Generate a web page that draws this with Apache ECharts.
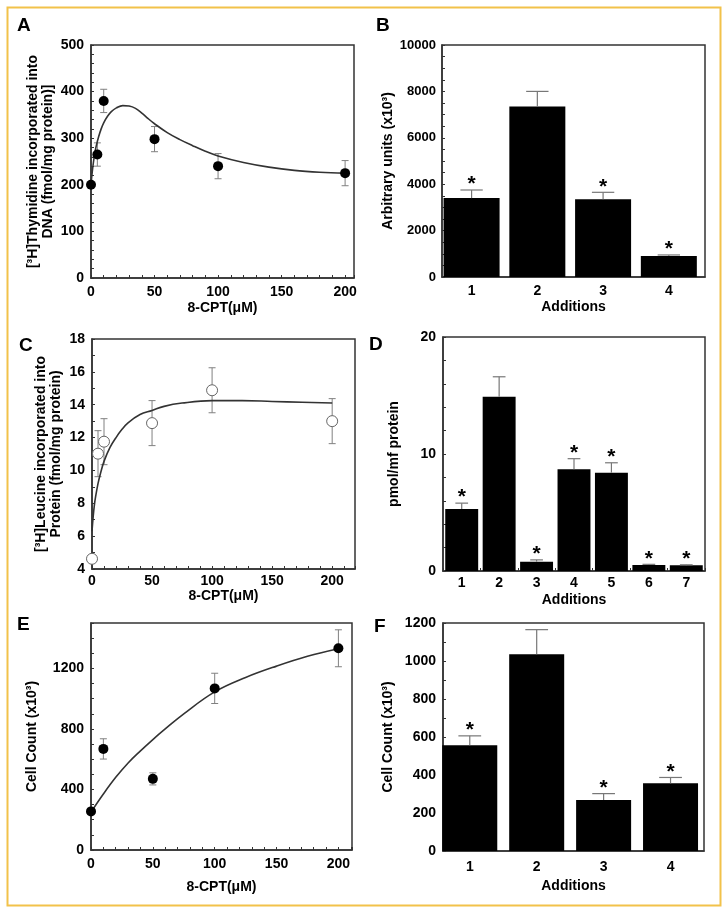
<!DOCTYPE html>
<html><head><meta charset="utf-8">
<script src="https://cdn.jsdelivr.net/npm/echarts@6/dist/echarts.min.js"></script>
<style>html,body{margin:0;padding:0;background:#fff}#c{width:724px;height:910px}</style>
</head><body><div id="c"></div>
<script>
// ---------- Panel A ----------
const aX = [0, 5, 10, 50, 100, 200];
const aY = [200, 265, 380, 298, 240, 225];
const aErr = [0, 25, 25, 27, 27, 27];
const aCurveX = [0, 1, 2, 3, 4, 6, 8, 10, 13, 16, 20, 25, 30, 35, 40, 45, 50, 60, 70, 80, 90, 100, 120, 140, 160, 180, 200];
const aCurveY = [200, 228, 250, 268, 282, 303, 320, 333, 347, 357, 365, 370, 369, 364, 354, 342, 331, 312, 297, 284, 272, 262, 248, 238, 231, 227, 225];
// ---------- Panel B ----------
const bCats = [1, 2, 3, 4];
const bVals = [3400, 7350, 3350, 900];
const bErr = [350, 650, 300, 50];
const bSig = [1, 0, 1, 1];
// ---------- Panel C ----------
const cX = [0, 5, 10, 50, 100, 200];
const cY = [4.62, 11.02, 11.75, 12.88, 14.88, 13.0];
const cErr = [0, 1.4, 1.4, 1.37, 1.37, 1.37];
const cCurveX = [0, 1, 2, 3, 5, 7, 10, 15, 20, 25, 30, 40, 50, 60, 75, 100, 125, 150, 175, 200];
const cCurveY = [6.3, 7.2, 7.9, 8.4, 9.2, 9.8, 10.55, 11.4, 12.0, 12.5, 12.9, 13.4, 13.65, 13.9, 14.1, 14.25, 14.25, 14.2, 14.15, 14.1];
// ---------- Panel D ----------
const dCats = ['1', '2', '3', '4', '5', '6', '7'];
const dVals = [5.3, 14.9, 0.8, 8.7, 8.4, 0.52, 0.5];
const dErr = [0.5, 1.7, 0.15, 0.9, 0.85, 0.05, 0.03];
const dSig = [1, 0, 1, 1, 1, 1, 1];
// ---------- Panel E ----------
const eX = [0, 10, 50, 100, 200];
const eY = [255, 668, 470, 1068, 1333];
const eErr = [0, 67, 40, 100, 122];
const eCurveX = [0, 10, 20, 30, 40, 50, 60, 75, 100, 125, 150, 175, 200];
const eCurveY = [250, 370, 480, 575, 655, 730, 800, 900, 1045, 1140, 1215, 1280, 1330];
// ---------- Panel F ----------
const fCats = [1, 2, 3, 4];
const fVals = [556, 1035, 268, 356];
const fErr = [50, 130, 34, 31];
const fSig = [1, 0, 1, 1];

const FONT = '"Liberation Sans", Arial, sans-serif';
const AX = '#333';

function zip(xs, ys, es) { return xs.map((x, i) => es ? [x, ys[i], es[i]] : [x, ys[i]]); }
function barData(pos, vals, errs, sig) { return vals.map((v, i) => [pos[i], v, errs[i], sig[i]]); }

function errXY(params, api) {
  const x = api.value(0), y = api.value(1), e = api.value(2);
  if (!e) return { type: 'group', children: [] };
  const t = api.coord([x, y + e]), b = api.coord([x, y - e]);
  const w = 3.5, st = { stroke: '#808080', lineWidth: 1 };
  return { type: 'group', children: [
    { type: 'line', shape: { x1: t[0], y1: t[1], x2: b[0], y2: b[1] }, style: st },
    { type: 'line', shape: { x1: t[0] - w, y1: t[1], x2: t[0] + w, y2: t[1] }, style: st },
    { type: 'line', shape: { x1: b[0] - w, y1: b[1], x2: b[0] + w, y2: b[1] }, style: st }
  ] };
}
function errBar(params, api) {
  const i = api.value(0), v = api.value(1), e = api.value(2), s = api.value(3);
  const base = api.coord([i, v]), t = api.coord([i, v + e]);
  const cw = api.size([1, 0])[0];
  const w = cw * 0.17, st = { stroke: '#777', lineWidth: 1.2 };
  const ch = [
    { type: 'line', shape: { x1: base[0], y1: base[1], x2: t[0], y2: t[1] }, style: st },
    { type: 'line', shape: { x1: t[0] - w, y1: t[1], x2: t[0] + w, y2: t[1] }, style: st }
  ];
  if (s) ch.push({ type: 'text', x: t[0], y: t[1] - 16, style: { text: '*', font: 'bold 21px ' + FONT, fill: '#000', align: 'center', verticalAlign: 'top', textAlign: 'center', textVerticalAlign: 'top' } });
  return { type: 'group', children: ch };
}

function grid(left, top, width, height) {
  return { left, top, width, height, show: true, borderColor: AX, borderWidth: 1.5, backgroundColor: 'transparent', containLabel: false, outerBoundsMode: 'none' };
}
function labelFmt(step) { return v => (Math.abs(v / step - Math.round(v / step)) < 1e-6 ? String(Math.round(v)) : ''); }
function valAxis(gi, min, max, interval, step, name, nameGap, extra) {
  return Object.assign({
    type: 'value', gridIndex: gi, min, max, interval,
    axisLine: { show: true, lineStyle: { color: AX, width: 1.5 } },
    axisTick: { show: true, inside: true, length: 3, lineStyle: { color: AX, width: 1 } },
    splitLine: { show: false },
    axisLabel: { formatter: labelFmt(step), color: '#000', fontFamily: FONT, fontWeight: 'bold', fontSize: 14, margin: 7, showMinLabel: true, showMaxLabel: true },
    name, nameLocation: 'middle', nameGap,
    nameTextStyle: { color: '#000', fontFamily: FONT, fontWeight: 'bold', fontSize: 14, lineHeight: 15 }
  }, extra || {});
}
function catAxis(gi, cats, name, nameGap, margin) {
  return {
    type: 'category', gridIndex: gi, data: cats,
    axisLine: { show: true, lineStyle: { color: AX, width: 1.5 } },
    axisTick: { show: true, inside: true, length: 3, alignWithLabel: false, lineStyle: { color: AX } },
    splitLine: { show: false },
    axisLabel: { color: '#000', fontFamily: FONT, fontWeight: 'bold', fontSize: 14, margin: margin },
    name, nameLocation: 'middle', nameGap,
    nameTextStyle: { color: '#000', fontFamily: FONT, fontWeight: 'bold', fontSize: 14 }
  };
}
// numeric "Additions" axis (bars sit slightly left of the frame centre in the original)
function addAxis(gi, min, max, name, nameGap, margin) {
  return valAxis(gi, min, max, 0.05, 1, name, nameGap, {
    axisTick: { show: false },
    axisLabel: { formatter: labelFmt(1), color: '#000', fontFamily: FONT, fontWeight: 'bold', fontSize: 14, margin: margin }
  });
}
function curve(gi, xs, ys) {
  return { type: 'line', xAxisIndex: gi, yAxisIndex: gi, data: zip(xs, ys), smooth: 0.4, showSymbol: false, symbol: 'none', lineStyle: { color: '#333', width: 1.6 }, z: 2, silent: true };
}
function errS(gi, xs, ys, es) {
  return { type: 'custom', xAxisIndex: gi, yAxisIndex: gi, data: zip(xs, ys, es), renderItem: errXY, encode: { x: 0, y: 1 }, z: 1, silent: true };
}
function pts(gi, xs, ys, open) {
  return { type: 'scatter', xAxisIndex: gi, yAxisIndex: gi, data: zip(xs, ys), symbolSize: open ? 11 : 10,
    itemStyle: open ? { color: '#fff', borderColor: '#666', borderWidth: 1, opacity: 1 } : { color: '#000', opacity: 1 }, z: 3, silent: true };
}
function bars(gi, data, width) {
  return { type: 'bar', xAxisIndex: gi, yAxisIndex: gi, data: data, barWidth: width, itemStyle: { color: '#000' }, z: 2, silent: true };
}
function barErr(gi, pos, vals, errs, sig) {
  return { type: 'custom', xAxisIndex: gi, yAxisIndex: gi, data: barData(pos, vals, errs, sig), renderItem: errBar, encode: { x: 0, y: 1 }, z: 3, silent: true };
}

const SUP3 = '\u00b3';
const option = {
  backgroundColor: '#fff',
  animation: false,
  grid: [
    grid(91, 45, 263, 233),   // A
    grid(442, 45, 263, 232),  // B
    grid(92, 339, 263, 230),  // C
    grid(443, 337, 262, 234), // D
    grid(91, 623, 261, 227),  // E
    grid(443, 623, 261, 228)  // F
  ],
  xAxis: [
    valAxis(0, 0, 207, 10, 50, '8-CPT(\u03bcM)', 23),
    addAxis(1, 0.55, 4.55, 'Additions', 23, 7),
    valAxis(2, 0, 219, 10, 50, '8-CPT(\u03bcM)', 19, { axisLabel: { formatter: labelFmt(50), color: '#000', fontFamily: FONT, fontWeight: 'bold', fontSize: 14, margin: 5 } }),
    catAxis(3, dCats, 'Additions', 22, 5),
    valAxis(4, 0, 211, 10, 50, '8-CPT(\u03bcM)', 30),
    addAxis(5, 0.6, 4.5, 'Additions', 28, 9)
  ],
  yAxis: [
    valAxis(0, 0, 500, 20, 100, '[' + SUP3 + 'H]Thymidine incorporated into\nDNA (fmol/mg protein)]', 35),
    valAxis(1, 0, 10000, 500, 2000, 'Arbitrary units (x10' + SUP3 + ')', 41, { axisLabel: { formatter: labelFmt(2000), color: '#000', fontFamily: FONT, fontWeight: 'bold', fontSize: 13, margin: 6 } }),
    valAxis(2, 4, 18, 1, 2, '[' + SUP3 + 'H]Leucine incorporated into\nProtein (fmol/mg protein)', 28),
    valAxis(3, 0, 20, 2, 10, 'pmol/mf protein', 41),
    valAxis(4, 0, 1500, 100, 400, 'Cell Count (x10' + SUP3 + ')', 51),
    valAxis(5, 0, 1200, 100, 200, 'Cell Count (x10' + SUP3 + ')', 47)
  ],
  series: [
    errS(0, aX, aY, aErr), curve(0, aCurveX, aCurveY), pts(0, aX, aY, false),
    bars(1, zip(bCats, bVals), 56), barErr(1, bCats, bVals, bErr, bSig),
    errS(2, cX, cY, cErr), curve(2, cCurveX, cCurveY), pts(2, cX, cY, true),
    bars(3, dVals, '88%'), barErr(3, dCats.map((c, i) => i), dVals, dErr, dSig),
    errS(4, eX, eY, eErr), curve(4, eCurveX, eCurveY), pts(4, eX, eY, false),
    bars(5, zip(fCats, fVals), 55), barErr(5, fCats, fVals, fErr, fSig)
  ],
  graphic: [
    { type: 'rect', left: 5, top: 5, shape: { width: 713, height: 898 }, style: { fill: 'none', stroke: '#f2c24a', lineWidth: 2 }, silent: true },
    { type: 'text', left: 17, top: 16, style: { text: 'A', font: 'bold 19px ' + FONT, fill: '#000' } },
    { type: 'text', left: 376, top: 16, style: { text: 'B', font: 'bold 19px ' + FONT, fill: '#000' } },
    { type: 'text', left: 19, top: 336, style: { text: 'C', font: 'bold 19px ' + FONT, fill: '#000' } },
    { type: 'text', left: 369, top: 335, style: { text: 'D', font: 'bold 19px ' + FONT, fill: '#000' } },
    { type: 'text', left: 17, top: 615, style: { text: 'E', font: 'bold 19px ' + FONT, fill: '#000' } },
    { type: 'text', left: 374, top: 617, style: { text: 'F', font: 'bold 19px ' + FONT, fill: '#000' } }
  ]
};
const chart = echarts.init(document.getElementById('c'), null, { renderer: 'canvas' });
chart.setOption(option);
</script>
</body></html>
